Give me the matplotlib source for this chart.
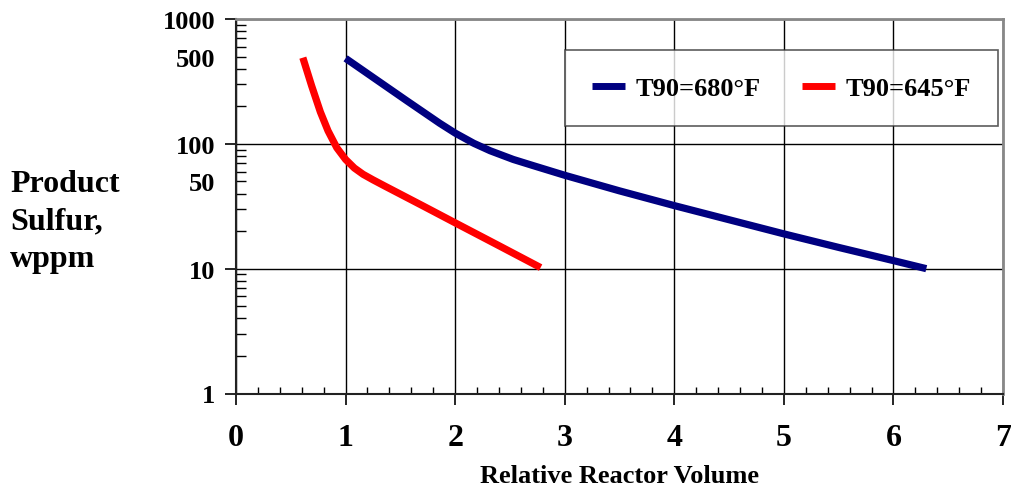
import matplotlib
matplotlib.use("Agg")
import matplotlib.pyplot as plt
from matplotlib.ticker import FixedLocator, FixedFormatter, MultipleLocator

plt.rcParams['font.family'] = ['Liberation Serif', 'DejaVu Serif']
plt.rcParams['font.weight'] = 'bold'

# Data
blue_x = [1.0, 1.25, 1.56, 1.86, 2.0, 2.17, 2.32, 2.53, 2.71, 3.0, 3.5, 4.0, 5.0, 5.5, 6.0, 6.3]
blue_y = [484, 341, 221, 146, 122, 101, 88, 75, 67, 56, 42, 32, 19, 14.8, 11.6, 10]
red_x = [0.61, 0.69, 0.77, 0.84, 0.92, 1.0, 1.08, 1.16, 1.25, 1.36, 1.47, 1.71, 2.0, 2.38, 2.78]
red_y = [490, 292, 180, 127, 93, 75, 64, 57, 51.5, 45.8, 40.8, 31.7, 23.3, 15.6, 10.2]
blue_label = "T90=680°F"
red_label = "T90=645°F"
x_ticks = [0, 1, 2, 3, 4, 5, 6, 7]
y_major = [1, 10, 100, 1000]
y_labels = ["1", "10", "100", "1000"]
y_extra = [50, 500]
y_extra_labels = ["50", "500"]

fig = plt.figure(figsize=(10.11, 4.89), dpi=100)
ax = fig.add_axes([236/1011, 1-394.5/489, (1003-236)/1011, (394.5-20)/489])

ax.plot(blue_x, blue_y, color='#000080', lw=5.2, solid_capstyle='butt', solid_joinstyle='round',
        label=blue_label, zorder=3)
ax.plot(red_x, red_y, color='#FF0000', lw=5.2, solid_capstyle='butt', solid_joinstyle='round',
        label=red_label, zorder=3)

ax.set_yscale('log')
ax.set_xlim(0, 7)
ax.set_ylim(1, 1000)

ax.xaxis.set_major_locator(FixedLocator(x_ticks))
ax.set_xticklabels([str(t) for t in x_ticks])
ax.xaxis.set_minor_locator(MultipleLocator(0.2))

ax.yaxis.set_major_locator(FixedLocator(y_major))
ax.yaxis.set_major_formatter(FixedFormatter(y_labels))
minor = []
for d in [1, 10, 100]:
    for s in range(2, 10):
        minor.append(d*s)
ax.yaxis.set_minor_locator(FixedLocator(minor))
ax.yaxis.set_minor_formatter(FixedFormatter([y_extra_labels[y_extra.index(m)] if m in y_extra else "" for m in minor]))

ax.grid(True, which='major', color='black', lw=1.0, zorder=1)

ax.tick_params(axis='x', which='major', direction='out', length=8, width=1.2, labelsize=23, pad=13)
ax.tick_params(axis='x', which='minor', direction='in', length=5, width=1.0)
ax.tick_params(axis='y', which='major', direction='out', length=8, width=1.2, labelsize=19, pad=7)
ax.tick_params(axis='y', which='minor', direction='in', length=7, width=1.0, labelsize=19, pad=15)
for lab in ax.get_xticklabels() + ax.get_yticklabels() + ax.get_yticklabels(minor=True):
    lab.set_fontweight('bold')

ax.spines['left'].set_color('#222222')
ax.spines['bottom'].set_color('#222222')
ax.spines['left'].set_linewidth(1.5)
ax.spines['bottom'].set_linewidth(1.5)
ax.spines['top'].set_color('#888888')
ax.spines['right'].set_color('#888888')
ax.spines['top'].set_linewidth(2)
ax.spines['right'].set_linewidth(2)

ax.set_xlabel("Relative Reactor Volume", fontsize=19, fontweight='bold', labelpad=9)

fig.text(10/1011, 1-222/489, "Product\nSulfur,\nwppm", ha='left', va='center',
         fontsize=23, fontweight='bold', linespacing=1.38)

leg = fig.legend(loc='center', bbox_to_anchor=(781.5/1011, 1-89/489), ncol=2,
                 prop={'size': 19, 'weight': 'bold'}, frameon=True, fancybox=False,
                 edgecolor='#333333', handlelength=1.25, handletextpad=0.4,
                 columnspacing=1.6, borderpad=1.0, borderaxespad=0)
leg.get_frame().set_linewidth(1.2)
for h in leg.get_lines():
    h.set_linewidth(5)

fig.savefig("out.png", dpi=100, facecolor='white')
